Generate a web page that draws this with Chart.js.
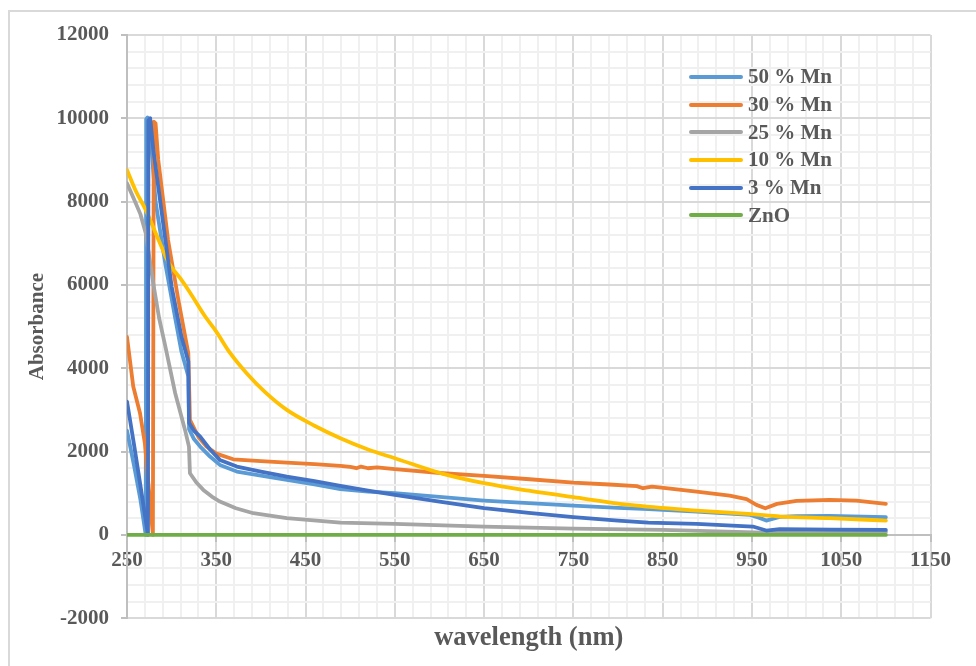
<!DOCTYPE html>
<html>
<head>
<meta charset="utf-8">
<script src="https://cdn.jsdelivr.net/npm/chart.js@4/dist/chart.umd.min.js"></script>
<style>
html,body{margin:0;padding:0;background:#fff;}
#wrap{position:relative;width:976px;height:666px;overflow:hidden;background:#fff;}
#frame{position:absolute;left:8px;top:10px;width:1000px;height:700px;border:2px solid #d9d9d9;box-sizing:border-box;}
#c{position:absolute;left:0;top:0;}
#legend{position:absolute;left:689px;top:63px;font:bold 21px 'Liberation Serif','Times New Roman',serif;color:#595959;}
.row{display:flex;align-items:center;height:27.7px;white-space:nowrap;}
.sw{width:54px;height:4px;border-radius:2px;margin-right:5px;}
</style>
</head>
<body>
<div id="wrap">
  <div id="frame"></div>
  <canvas id="c" width="976" height="666"></canvas>
  <div id="legend"></div>
</div>
<script>
// ---- data ----
const seriesNames = ['50 % Mn', '30 % Mn', '25 % Mn', '10 % Mn', '3 % Mn', 'ZnO'];
const seriesColors = ['#5B9BD5', '#ED7D31', '#A5A5A5', '#FFC000', '#4472C4', '#70AD47'];

const wl50 = [250, 258, 265, 271, 271.5, 273, 276, 282, 293, 304, 311, 318.7, 319.5, 325, 332, 343, 354, 373, 400, 429, 460, 489, 520, 550, 600, 650, 700, 750, 800, 834, 888, 948, 957, 966, 981, 1000, 1037, 1100];
const abs50 = [2500, 1650, 850, 0, 9980, 10020, 9700, 8000, 6500, 5200, 4400, 3800, 2540, 2300, 2120, 1880, 1680, 1520, 1420, 1320, 1210, 1100, 1040, 1000, 910, 824, 760, 704, 650, 616, 560, 480, 420, 344, 430, 450, 456, 424];

const wl30 = [250, 257, 264.6, 270, 279, 280, 282, 285, 296, 307.5, 318.7, 320.5, 330, 339, 350, 369, 400, 429, 460, 489, 500, 507, 512, 520, 530, 550, 604, 650, 701, 750, 790, 821, 828, 838, 851, 888, 925, 944, 955, 965, 978, 1000, 1037, 1067, 1100];
const abs30 = [4750, 3560, 2920, 2200, 0, 9920, 9880, 9000, 7080, 5640, 4360, 2760, 2350, 2120, 1950, 1815, 1770, 1736, 1700, 1656, 1630, 1600, 1640, 1600, 1620, 1576, 1480, 1416, 1336, 1256, 1210, 1170, 1120, 1160, 1128, 1040, 944, 856, 720, 640, 744, 816, 840, 824, 744];

const wl25 = [250, 258, 265, 271, 280, 286, 293, 304, 315, 319.4, 320.5, 328, 335.5, 345, 354, 372, 391.5, 429, 489, 550, 650, 750, 850, 963, 1000, 1100];
const abs25 = [8440, 8050, 7700, 7240, 5960, 5200, 4520, 3400, 2520, 2120, 1480, 1250, 1080, 920, 800, 640, 520, 400, 296, 264, 200, 152, 120, 56, 70, 70];

const wl10 = [250, 260, 271, 285, 297, 310, 320.5, 337, 350, 365, 384, 405, 429, 460, 489, 520, 550, 604, 650, 700, 750, 813, 888, 950, 982, 1037, 1100];
const abs10 = [8760, 8250, 7800, 7100, 6520, 6150, 5820, 5260, 4880, 4380, 3880, 3420, 3000, 2620, 2320, 2050, 1840, 1464, 1240, 1060, 904, 720, 584, 496, 440, 400, 344];

const wl3 = [250, 258, 266, 273.5, 274, 276, 279.5, 289, 300, 311, 318.7, 319.5, 325, 332, 343, 354, 373, 400, 429, 460, 489, 520, 550, 600, 650, 700, 750, 800, 834, 888, 951, 966, 981, 1040, 1100];
const abs3 = [3200, 2150, 1050, 0, 9950, 10000, 9240, 7720, 5960, 4760, 4160, 2690, 2500, 2360, 2050, 1800, 1640, 1520, 1400, 1290, 1176, 1060, 960, 800, 640, 530, 424, 340, 296, 264, 200, 104, 136, 125, 120];

const wlZnO = [250, 1100];
const absZnO = [0, 0];

const xTickLabels = [250, 350, 450, 550, 650, 750, 850, 950, 1050, 1150];
const yTickLabels = [-2000, 0, 2000, 4000, 6000, 8000, 10000, 12000];
const xTitle = 'wavelength (nm)';
const yTitle = 'Absorbance';

// ---- build chart ----
const wlList = [wl50, wl30, wl25, wl10, wl3, wlZnO];
const absList = [abs50, abs30, abs25, abs10, abs3, absZnO];
const FAMILY = "'Liberation Serif', 'Times New Roman', serif";
const TXT = '#595959';

const datasets = seriesNames.map((name, k) => ({
  label: name,
  data: wlList[k].map((x, i) => ({ x: x, y: absList[k][i] })),
  borderColor: seriesColors[k],
  backgroundColor: seriesColors[k],
  borderWidth: 3.8,
  pointRadius: 0,
  showLine: true,
  fill: false,
  tension: 0,
  cubicInterpolationMode: name === '10 % Mn' ? 'monotone' : 'default',
  borderJoinStyle: 'round',
  borderCapStyle: 'round',
  order: seriesNames.length - k
}));

const isMajorX = v => xTickLabels.includes(Math.round(v));
const isMajorY = v => yTickLabels.includes(Math.round(v));

new Chart(document.getElementById('c'), {
  type: 'scatter',
  data: { datasets },
  options: {
    responsive: false,
    animation: false,
    layout: { padding: { left: 0, right: 45.5, top: 35, bottom: 12 } },
    plugins: {
      legend: { display: false },
      tooltip: { enabled: false },
      title: {
        display: true, text: xTitle, position: 'bottom', fullSize: false,
        color: TXT, font: { family: FAMILY, size: 26.5, weight: 'bold' },
        padding: { top: 4, bottom: 0 }
      }
    },
    scales: {
      x: {
        type: 'linear', position: { y: 0 }, min: 250, max: 1150,
        ticks: {
          stepSize: 20, autoSkip: false, maxRotation: 0, minRotation: 0, padding: 7,
          color: TXT, font: { family: FAMILY, size: 21, weight: 'bold' },
          callback: v => isMajorX(v) ? String(Math.round(v)) : ''
        },
        grid: {
          color: c => (c.tick && isMajorX(c.tick.value)) ? '#d9d9d9' : '#f0f0f0',
          lineWidth: 2, tickLength: 6, tickWidth: 2,
          tickColor: c => (c.tick && isMajorX(c.tick.value)) ? '#bfbfbf' : 'rgba(0,0,0,0)'
        },
        border: { display: true, color: '#bfbfbf', width: 2 }
      },
      y: {
        type: 'linear', position: 'left', min: -2000, max: 12000,
        ticks: {
          stepSize: 400, autoSkip: false, padding: 12,
          color: TXT, font: { family: FAMILY, size: 21, weight: 'bold' },
          callback: v => isMajorY(v) ? String(Math.round(v)) : ''
        },
        grid: {
          color: c => (c.tick && isMajorY(c.tick.value)) ? '#d9d9d9' : '#f0f0f0',
          lineWidth: 2, tickLength: 6, tickWidth: 2,
          tickColor: c => (c.tick && isMajorY(c.tick.value)) ? '#bfbfbf' : 'rgba(0,0,0,0)'
        },
        border: { display: true, color: '#bfbfbf', width: 2 },
        title: {
          display: true, text: yTitle, color: TXT,
          font: { family: FAMILY, size: 21, weight: 'bold' },
          padding: { top: 25, bottom: 0 }
        },
        afterFit: s => { s.width = 127; }
      }
    }
  }
});

// ---- legend (HTML text, built from the same series arrays) ----
const lg = document.getElementById('legend');
seriesNames.forEach((name, k) => {
  const row = document.createElement('div');
  row.className = 'row';
  const sw = document.createElement('span');
  sw.className = 'sw';
  sw.style.background = seriesColors[k];
  const tx = document.createElement('span');
  tx.textContent = name;
  row.appendChild(sw);
  row.appendChild(tx);
  lg.appendChild(row);
});
</script>
</body>
</html>
